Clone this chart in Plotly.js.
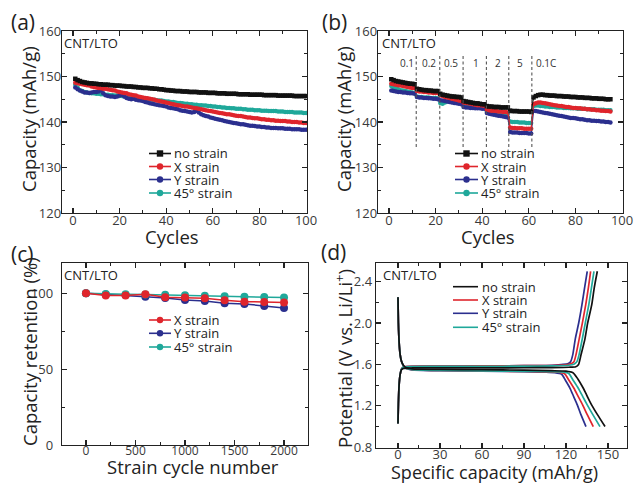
<!DOCTYPE html>
<html><head><meta charset="utf-8">
<script src="https://cdn.plot.ly/plotly-3.0.1.min.js"></script>
<style>html,body{margin:0;padding:0;background:#fff}#chart{width:635px;height:483px}</style>
</head><body><div id="chart"></div>
<script>
// ================= DATA =================
const seriesNames = ['no strain', 'X strain', 'Y strain', '45° strain'];
const seriesColors = ['#111111', '#df252c', '#2b2f8e', '#1fa89a'];
const seriesSymbols = ['square', 'circle', 'circle', 'circle'];
const panelLabels = ['(a)', '(b)', '(c)', '(d)'];
const sampleLabel = 'CNT/LTO';

// (a) cycling capacity (mAh/g), cycles 1..100
const noStrainA = [149.5,149.2,149.0,148.8,148.7,148.6,148.5,148.5,148.4,148.4,
  148.3,148.3,148.2,148.2,148.2,148.1,148.1,148.0,148.0,148.0,
  147.9,147.9,147.8,147.8,147.8,147.7,147.7,147.6,147.6,147.5,
  147.5,147.5,147.4,147.4,147.3,147.3,147.2,147.2,147.1,147.0,
  147.0,146.9,146.9,146.8,146.8,146.8,146.7,146.7,146.7,146.6,
  146.6,146.6,146.6,146.5,146.5,146.5,146.5,146.4,146.4,146.4,
  146.4,146.3,146.3,146.3,146.3,146.2,146.2,146.2,146.2,146.2,
  146.1,146.1,146.1,146.1,146.1,146.0,146.0,146.0,146.0,146.0,
  146.0,145.9,145.9,145.9,145.9,145.9,145.9,145.8,145.8,145.8,
  145.8,145.8,145.8,145.8,145.7,145.7,145.7,145.7,145.7,145.7];
const xStrainA = [148.6,148.5,148.4,148.3,148.2,148.1,148.0,147.8,147.7,147.6,
  147.5,147.4,147.3,147.3,147.2,147.1,147.0,146.9,146.7,146.6,
  146.5,146.4,146.3,146.1,146.0,145.9,145.8,145.6,145.5,145.4,
  145.3,145.2,145.1,145.0,144.9,144.7,144.6,144.5,144.4,144.3,
  144.2,144.0,143.9,143.8,143.7,143.6,143.5,143.4,143.4,143.3,
  143.2,143.1,143.0,142.9,142.8,142.7,142.6,142.5,142.4,142.3,
  142.2,142.1,142.0,141.9,141.8,141.7,141.7,141.6,141.5,141.4,
  141.3,141.3,141.2,141.1,141.0,141.0,140.9,140.8,140.8,140.7,
  140.6,140.6,140.5,140.5,140.4,140.4,140.3,140.3,140.2,140.2,
  140.2,140.1,140.1,140.0,140.0,140.0,139.9,139.9,139.8,139.8];
const yStrainA = [147.6,147.2,146.9,146.7,146.5,146.5,146.4,146.5,146.6,146.6,
  146.7,146.9,146.3,145.9,145.7,145.6,145.6,145.5,145.6,145.8,
  146.0,145.6,145.3,145.1,145.0,145.1,144.9,144.8,144.7,144.6,
  144.4,144.3,144.1,144.0,143.9,143.8,143.7,143.6,143.5,143.4,
  143.2,143.1,143.0,142.9,142.8,142.6,142.5,142.4,142.3,142.2,
  142.1,142.2,142.4,142.1,141.7,141.5,141.3,141.2,141.0,140.9,
  140.7,140.6,140.5,140.4,140.2,140.1,140.0,139.9,139.8,139.7,
  139.6,139.5,139.5,139.4,139.3,139.2,139.2,139.1,139.0,139.0,
  138.9,138.9,138.8,138.8,138.7,138.7,138.7,138.6,138.6,138.6,
  138.5,138.5,138.5,138.4,138.4,138.4,138.4,138.3,138.3,138.3];
const deg45StrainA = [148.2,147.6,147.0,146.8,146.6,146.5,146.4,146.3,146.3,146.2,
  146.2,146.1,146.1,146.0,146.0,145.9,145.9,145.8,145.8,145.7,
  145.7,145.6,145.6,145.5,145.5,145.4,145.3,145.3,145.2,145.1,
  145.1,145.0,145.0,144.9,144.9,144.8,144.7,144.7,144.6,144.5,
  144.5,144.4,144.4,144.3,144.2,144.2,144.1,144.0,144.0,143.9,
  143.9,143.8,143.8,143.7,143.7,143.6,143.6,143.5,143.5,143.4,
  143.4,143.3,143.3,143.2,143.2,143.1,143.1,143.0,143.0,142.9,
  142.9,142.9,142.8,142.8,142.7,142.7,142.7,142.6,142.6,142.6,
  142.5,142.5,142.5,142.4,142.4,142.4,142.4,142.3,142.3,142.3,
  142.2,142.2,142.2,142.2,142.1,142.1,142.1,142.1,142.0,142.0];

// (b) rate capability (mAh/g), cycles 1..95
const noStrainB = [149.4,149.2,149.0,148.9,148.8,148.7,148.6,148.5,148.4,148.4,148.3,
  147.3,147.2,147.1,147.0,147.0,146.9,146.9,146.8,146.8,146.8,
  146.2,146.0,145.9,145.8,145.7,145.6,145.6,145.5,145.5,145.4,
  144.6,144.5,144.4,144.3,144.2,144.1,144.1,144.0,143.9,143.9,
  143.5,143.4,143.4,143.3,143.3,143.3,143.2,143.2,143.2,143.2,
  142.5,142.4,142.4,142.4,142.3,142.3,142.3,142.3,142.3,142.2,
  145.4,145.7,145.9,146.0,146.0,145.9,145.9,145.8,145.8,145.8,
  145.7,145.7,145.7,145.6,145.6,145.6,145.5,145.5,145.5,145.4,
  145.4,145.4,145.3,145.3,145.3,145.2,145.2,145.2,145.1,145.1,
  145.1,145.0,145.0,145.0];
const xStrainB = [148.4,148.3,148.2,148.1,148.0,147.9,147.8,147.7,147.6,147.5,147.5,
  146.8,146.7,146.7,146.6,146.6,146.5,146.5,146.4,146.4,146.4,
  145.9,145.7,145.5,145.4,145.3,145.1,145.0,144.9,144.7,144.6,
  144.3,144.2,144.1,144.0,143.9,143.8,143.7,143.7,143.6,143.5,
  142.7,142.6,142.5,142.5,142.4,142.3,142.3,142.2,142.2,142.1,
  138.8,138.7,138.7,138.6,138.6,138.6,138.5,138.5,138.5,138.5,
  143.9,144.1,144.3,144.3,144.2,144.1,144.0,143.9,143.8,143.7,
  143.6,143.5,143.5,143.4,143.3,143.3,143.2,143.1,143.1,143.0,
  143.0,142.9,142.9,142.8,142.8,142.7,142.7,142.6,142.6,142.5,
  142.5,142.4,142.4,142.3];
const yStrainB = [146.9,146.8,146.7,146.6,146.6,146.5,146.5,146.4,146.3,146.3,146.2,
  145.5,145.4,145.4,145.3,145.3,145.2,145.2,145.1,145.1,145.0,
  144.8,144.7,144.6,144.5,144.4,144.3,144.2,144.1,144.0,143.9,
  143.3,143.2,143.2,143.1,143.1,143.0,143.0,143.0,142.9,142.9,
  142.0,141.8,141.7,141.6,141.5,141.4,141.3,141.2,141.1,141.0,
  137.8,137.7,137.7,137.7,137.6,137.6,137.6,137.6,137.5,137.5,
  142.5,142.4,142.3,142.2,142.1,142.0,141.9,141.8,141.7,141.6,
  141.5,141.4,141.3,141.2,141.1,141.0,140.9,140.9,140.8,140.7,
  140.6,140.6,140.5,140.4,140.4,140.3,140.3,140.2,140.2,140.1,
  140.1,140.0,140.0,139.9];
const deg45StrainB = [147.9,147.6,147.4,147.2,147.0,146.9,146.8,146.7,146.6,146.5,146.4,
  145.6,145.5,145.5,145.4,145.4,145.4,145.3,145.3,145.3,145.2,
  144.2,144.0,144.3,144.5,144.5,144.5,144.4,144.4,144.3,144.3,
  143.6,143.5,143.5,143.4,143.4,143.3,143.3,143.3,143.2,143.2,
  142.3,142.2,142.1,142.1,142.0,142.0,141.9,141.9,141.8,141.8,
  140.1,140.0,140.0,140.0,139.9,139.9,139.9,139.8,139.8,139.8,
  143.5,143.6,143.6,143.5,143.5,143.4,143.4,143.3,143.3,143.3,
  143.2,143.2,143.2,143.1,143.1,143.1,143.0,143.0,143.0,142.9,
  142.9,142.9,142.9,142.8,142.8,142.8,142.8,142.7,142.7,142.7,
  142.7,142.6,142.6,142.6];
const rateBoundaries = [11.7, 21.8, 31.8, 41.8, 51.4, 61.3];
const rateLabels = ['0.1', '0.2', '0.5', '1', '2', '5', '0.1C'];
const rateLabelCycles = [7.7, 17.2, 26.7, 37.3, 46.9, 56.2, 67.5];

// (c) capacity retention (%) vs strain cycle number
const strainCycles = [0, 200, 400, 600, 800, 1000, 1200, 1400, 1600, 1800, 2000];
const retentionX = [100, 98.5, 98.5, 99.4, 97.4, 97.2, 96.7, 95.4, 94.5, 94.3, 94.0];
const retentionY = [100, 99.3, 98.9, 97.8, 96.9, 95.6, 95.0, 93.4, 93.0, 91.7, 90.4];
const retention45 = [100, 99.6, 99.4, 99.3, 99.0, 98.8, 98.4, 98.0, 97.8, 97.6, 97.2];

// (d) charge/discharge profiles: capacity (mAh/g) and potential (V)
const noStrainDisCap = [0,0.3,0.8,1.5,2.5,4,6,10,30,60,90,110,120,125,128.5,132.4,135.3,138.3,142.5,147.9];
const noStrainDisV   = [2.25,2.0,1.82,1.7,1.63,1.59,1.568,1.557,1.552,1.549,1.545,1.54,1.535,1.52,1.46,1.37,1.29,1.21,1.115,1.0];
const noStrainChgCap = [0,0.3,0.8,1.5,2.5,4,6,10,30,60,90,110,122,127,129,130.7,133.6,135.5,138.4,140.2,142.4];
const noStrainChgV   = [1.03,1.22,1.4,1.5,1.55,1.562,1.565,1.566,1.566,1.567,1.568,1.57,1.573,1.578,1.6,1.69,1.85,2.0,2.175,2.34,2.5];
const xStrainDisCap  = [0,0.3,0.8,1.5,2.5,4,6,10,30,60,90,105,114,119,122,125.7,128.8,131.9,135.2,139.5];
const xStrainDisV    = [2.25,2.0,1.82,1.7,1.63,1.585,1.56,1.55,1.542,1.537,1.532,1.528,1.525,1.51,1.45,1.37,1.29,1.21,1.115,1.0];
const xStrainChgCap  = [0,0.3,0.8,1.5,2.5,4,6,10,30,60,90,110,120,124,125.7,127.1,129.5,131.7,134.1,136,137.6];
const xStrainChgV    = [1.03,1.22,1.4,1.5,1.555,1.575,1.58,1.582,1.584,1.586,1.588,1.59,1.596,1.61,1.627,1.69,1.85,2.0,2.175,2.34,2.5];
const yStrainDisCap  = [0,0.3,0.8,1.5,2.5,4,6,10,30,60,90,105,112,116.9,119.5,122.9,125.5,128.1,130.7,134.3];
const yStrainDisV    = [2.25,2.0,1.82,1.7,1.63,1.585,1.56,1.548,1.54,1.535,1.53,1.525,1.52,1.505,1.45,1.37,1.29,1.21,1.115,1.0];
const yStrainChgCap  = [0,0.3,0.8,1.5,2.5,4,6,10,30,60,90,110,118,121.7,123.3,124.8,126.7,129.1,131.4,133.3,135.2];
const yStrainChgV    = [1.03,1.22,1.4,1.5,1.555,1.575,1.58,1.582,1.584,1.586,1.588,1.592,1.6,1.61,1.627,1.69,1.85,2.0,2.175,2.34,2.5];
const deg45DisCap    = [0,0.3,0.8,1.5,2.5,4,6,10,30,60,90,108,117,122,125,128.8,132,135.2,139.2,144.3];
const deg45DisV      = [2.25,2.0,1.82,1.7,1.63,1.585,1.56,1.55,1.543,1.538,1.534,1.531,1.528,1.512,1.45,1.37,1.29,1.21,1.115,1.0];
const deg45ChgCap    = [0,0.3,0.8,1.5,2.5,4,6,10,30,60,90,110,122,126,127.8,129.3,131.7,133.8,136.3,138.2,140.0];
const deg45ChgV      = [1.03,1.22,1.4,1.5,1.555,1.575,1.578,1.58,1.581,1.582,1.584,1.586,1.592,1.605,1.627,1.69,1.85,2.0,2.175,2.34,2.5];

const axisTitles = {
  a: {x: 'Cycles', y: 'Capacity (mAh/g)'},
  b: {x: 'Cycles', y: 'Capacity (mAh/g)'},
  c: {x: 'Strain cycle number', y: 'Capacity retention (%)'},
  d: {x: 'Specific capacity (mAh/g)', y: 'Potential (V vs. Li/Li<sup>+</sup>)'}
};

// ================= BUILD =================
const W = 635, H = 483;
const px = v => v / W;
const py = v => 1 - v / H;
const FONT = 'Open Sans, Lato, sans-serif';
const idx = arr => arr.map((_, i) => i + 1);

const traces = [];
const seriesA = [noStrainA, xStrainA, yStrainA, deg45StrainA];
const seriesB = [noStrainB, xStrainB, yStrainB, deg45StrainB];
const drawOrder = [3, 2, 1, 0];
drawOrder.forEach(i => {
  traces.push({x: idx(seriesA[i]), y: seriesA[i], xaxis: 'x', yaxis: 'y', type: 'scatter',
    mode: 'lines+markers', name: seriesNames[i], showlegend: false,
    line: {color: seriesColors[i], width: 1.3},
    marker: {color: seriesColors[i], size: 4.5, symbol: seriesSymbols[i]}});
});
drawOrder.forEach(i => {
  traces.push({x: idx(seriesB[i]), y: seriesB[i], xaxis: 'x2', yaxis: 'y2', type: 'scatter',
    mode: 'lines+markers', name: seriesNames[i], showlegend: false,
    line: {color: seriesColors[i], width: 1.3},
    marker: {color: seriesColors[i], size: 4.5, symbol: seriesSymbols[i]}});
});
const retention = [null, retentionX, retentionY, retention45];
[2, 3, 1].forEach(i => {
  traces.push({x: strainCycles, y: retention[i], xaxis: 'x3', yaxis: 'y3', type: 'scatter',
    mode: 'lines+markers', name: seriesNames[i], showlegend: false,
    line: {color: seriesColors[i], width: 1.5},
    marker: {color: seriesColors[i], size: 8, symbol: 'circle'}});
});
const profiles = [
  [noStrainDisCap, noStrainDisV, noStrainChgCap, noStrainChgV],
  [xStrainDisCap, xStrainDisV, xStrainChgCap, xStrainChgV],
  [yStrainDisCap, yStrainDisV, yStrainChgCap, yStrainChgV],
  [deg45DisCap, deg45DisV, deg45ChgCap, deg45ChgV]
];
[2, 1, 3, 0].forEach(i => {
  const p = profiles[i];
  [[p[0], p[1]], [p[2], p[3]]].forEach(([cx, cy]) => {
    traces.push({x: cx, y: cy, xaxis: 'x4', yaxis: 'y4', type: 'scatter', mode: 'lines',
      name: seriesNames[i], showlegend: false,
      line: {color: seriesColors[i], width: 1.7, shape: 'spline', smoothing: 0.6}});
  });
});

function axis(o) {
  return Object.assign({
    showline: true, linecolor: '#222', linewidth: 1.3, mirror: 'ticks',
    ticks: 'inside', ticklen: 5, tickwidth: 1.2, tickcolor: '#222',
    showgrid: false, zeroline: false, fixedrange: true,
    tickfont: {family: FONT, size: 13, color: '#3a3a3a'}
  }, o);
}
function minor(d) { return {dtick: d, ticks: 'inside', ticklen: 3, tickwidth: 1, tickcolor: '#222'}; }

const annotations = [];
function ann(text, x, y, o) {
  annotations.push(Object.assign({text: text, x: px(x), y: py(y), xref: 'paper', yref: 'paper',
    showarrow: false, xanchor: 'left', yanchor: 'middle',
    font: {family: FONT, size: 13, color: '#222'}}, o || {}));
}
// panel labels
[[9, 22], [320, 22], [9, 254], [319, 252]].forEach((p, k) =>
  ann(panelLabels[k], p[0], p[1], {font: {family: FONT, size: 21, color: '#222'}}));
// sample labels
[[62, 43], [380, 43], [62, 275], [381, 275]].forEach(p => ann(sampleLabel, p[0], p[1]));
// axis titles
const tf = {family: FONT, size: 18.5, color: '#222'};
const tfd = {family: FONT, size: 18, color: '#222'};
ann(axisTitles.a.x, 172, 236, {xanchor: 'center', font: tf});
ann(axisTitles.a.y, 29, 119, {xanchor: 'center', textangle: -90, font: tf});
ann(axisTitles.b.x, 488, 236, {xanchor: 'center', font: tf});
ann(axisTitles.b.y, 344, 119, {xanchor: 'center', textangle: -90, font: tf});
ann(axisTitles.c.x, 193, 466, {xanchor: 'center', font: tf});
ann(axisTitles.c.y, 29, 352, {xanchor: 'center', textangle: -90, font: tf});
ann(axisTitles.d.x, 495, 472, {xanchor: 'center', font: tfd});
ann(axisTitles.d.y, 343, 358, {xanchor: 'center', textangle: -90, font: tf});
// rate labels (data coords of panel b)
rateLabels.forEach((t, k) => annotations.push({text: t, x: rateLabelCycles[k], y: 153, xref: 'x2', yref: 'y2',
  showarrow: false, xanchor: 'center', yanchor: 'middle', font: {family: FONT, size: 10, color: '#333'}}));

const shapes = [];
rateBoundaries.forEach(b => shapes.push({type: 'line', xref: 'x2', yref: 'y2', x0: b, x1: b, y0: 134.5, y1: 155,
  line: {color: '#555', width: 1.1, dash: '3px,2.5px'}}));

// manual legends
const legendFont = {family: FONT, size: 13, color: '#222'};
function legend(entries, lx0, lx1, tx, ys, withMarker) {
  entries.forEach((i, k) => {
    const y = ys[k];
    shapes.push({type: 'line', xref: 'paper', yref: 'paper', x0: px(lx0), x1: px(lx1), y0: py(y), y1: py(y),
      line: {color: seriesColors[i], width: 1.6}});
    if (withMarker) {
      const r = 3.2;
      shapes.push({type: seriesSymbols[i] === 'square' ? 'rect' : 'circle', xref: 'paper', yref: 'paper',
        xsizemode: 'pixel', ysizemode: 'pixel', xanchor: px((lx0 + lx1) / 2), yanchor: py(y),
        x0: -r, x1: r, y0: -r, y1: r, fillcolor: seriesColors[i], line: {color: seriesColors[i], width: 0}});
    }
    ann(seriesNames[i], tx, y, {font: legendFont});
  });
}
legend([0, 1, 2, 3], 149, 171, 172, [153.5, 166.5, 179.5, 193], true);
legend([0, 1, 2, 3], 455, 478, 479, [153.5, 166.5, 179.5, 193], true);
legend([1, 2, 3], 149, 171, 172, [320, 333.3, 347], true);
legend([0, 1, 2, 3], 453, 478, 480, [286.7, 300, 313.3, 327.3], false);

const layout = {
  width: W, height: H, margin: {l: 0, r: 0, t: 0, b: 0},
  paper_bgcolor: '#fff', plot_bgcolor: '#fff', showlegend: false,
  font: {family: FONT, color: '#222'},
  xaxis: axis({domain: [px(62), px(307)], range: [-4.7, 100.4], dtick: 20, minor: minor(10), anchor: 'y', ticklabelstandoff: -5}),
  yaxis: axis({domain: [py(213), py(31)], range: [120, 160], dtick: 10, minor: minor(5), anchor: 'x', ticklabelstandoff: -3}),
  xaxis2: axis({domain: [px(378), px(623)], range: [-4.7, 100.4], dtick: 20, minor: minor(10), anchor: 'y2', ticklabelstandoff: -5}),
  yaxis2: axis({domain: [py(213), py(31)], range: [120, 160], dtick: 10, minor: minor(5), anchor: 'x2', ticklabelstandoff: -3}),
  xaxis3: axis({domain: [px(62), px(308)], range: [-242, 2242], dtick: 500, minor: minor(250), anchor: 'y3', ticklabelstandoff: -6,
    tickfont: {family: FONT, size: 12, color: '#3a3a3a'}}),
  yaxis3: axis({domain: [py(445), py(263)], range: [0, 120], dtick: 50, minor: minor(25), anchor: 'x3', ticklabelstandoff: 5}),
  xaxis4: axis({domain: [px(376), px(627)], range: [-15.7, 163.6], dtick: 30, minor: minor(15), anchor: 'y4', ticklabelstandoff: -6}),
  yaxis4: axis({domain: [py(448), py(263)], range: [0.793, 2.58], tick0: 0.8, dtick: 0.4, tickformat: '.1f',
    minor: minor(0.2), anchor: 'x4'}),
  annotations: annotations, shapes: shapes
};
Plotly.newPlot('chart', traces, layout, {displayModeBar: false, staticPlot: true});
</script>
</body></html>
